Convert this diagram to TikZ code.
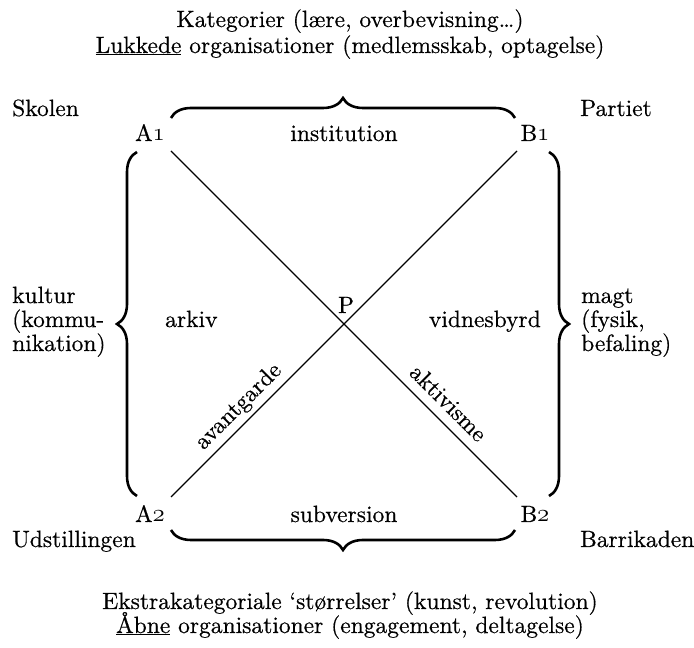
\documentclass[tikz,border=0pt]{standalone}
\usepackage{fontspec}
\setmainfont{lmroman10-regular.otf}[FakeBold=0.5]
\usetikzlibrary{decorations.pathreplacing}
\newcommand\osn[1]{{\fontencoding{OML}\fontfamily{cmm}\fontseries{m}\fontshape{it}\selectfont #1}}
\begin{document}
\begin{tikzpicture}[x=1pt,y=1pt,
  lbl/.style={inner sep=0pt, font=\fontsize{23.5}{26}\selectfont, anchor=base},
  lft/.style={lbl, anchor=base west},
  rgt/.style={lbl, anchor=base east},
  diag/.style={line width=1.2pt},
  brc/.style={decorate, decoration={brace, amplitude=20pt}, line width=2.6pt}]
\useasboundingbox (0,0) rectangle (694,648);
\fill[white] (0,0) rectangle (694,648);
% titles
\node[lbl] (t1) at (350,621) {Kategorier (lære, overbevisning\ldots)};
\node[lbl] (t2) at (350,595) {\underline{Lukkede} organisationer (medlemsskab, optagelse)};
\node[lbl] (b1t) at (350,39) {Ekstrakategoriale ‘størrelser’ (kunst, revolution)};
\node[lbl] (b2t) at (350,15) {\underline{Åbne} organisationer (engagement, deltagelse)};
% corners
\node[lft] (skolen) at (12,532) {Skolen};
\node[lft] (partiet) at (580,532) {Partiet};
\node[lft] (udst) at (12,101) {Udstillingen};
\node[lft] (barr) at (580,101) {Barrikaden};
% labels
\node[lbl] (A1) at (150,507) {A\osn{1}};
\node[lbl] (B1) at (535,507) {B\osn{1}};
\node[lbl] (A2) at (150,126) {A\osn{2}};
\node[lbl] (B2) at (535,126) {B\osn{2}};
\node[lbl] (inst) at (344,507) {institution};
\node[lbl] (subv) at (344,126) {subversion};
\node[lft] (arkiv) at (165,321) {arkiv};
\node[rgt] (vidn) at (541,321) {vidnesbyrd};
\node[lbl] (P) at (346,335) {P};
\node[lft] (k1) at (12,345) {kultur};
\node[lft] (k2) at (12,321) {(kommu-};
\node[lft] (k3) at (12,297) {nikation)};
\node[lft] (m1) at (581,345) {magt};
\node[lft] (m2) at (581,321) {(fysik,};
\node[lft] (m3) at (581,297) {befaling)};
% diagonals
\coordinate (a1) at (171,497);
\coordinate (b1) at (517,497);
\coordinate (a2) at (171,151);
\coordinate (b2) at (517,151);
\draw[diag] (a1) -- (b2);
\draw[diag] (a2) -- (b1);
\node[lbl, rotate=45] (avant) at (243,237) {avantgarde};
\node[lbl, rotate=-45] (aktiv) at (443,239.5) {aktivisme};
% braces
\draw[brc] (171,530) -- (515,530);
\draw[brc] (515,118) -- (171,118);
\draw[brc] (137,152) -- (137,496);
\draw[brc] (549,496) -- (549,152);
\end{tikzpicture}
\end{document}
